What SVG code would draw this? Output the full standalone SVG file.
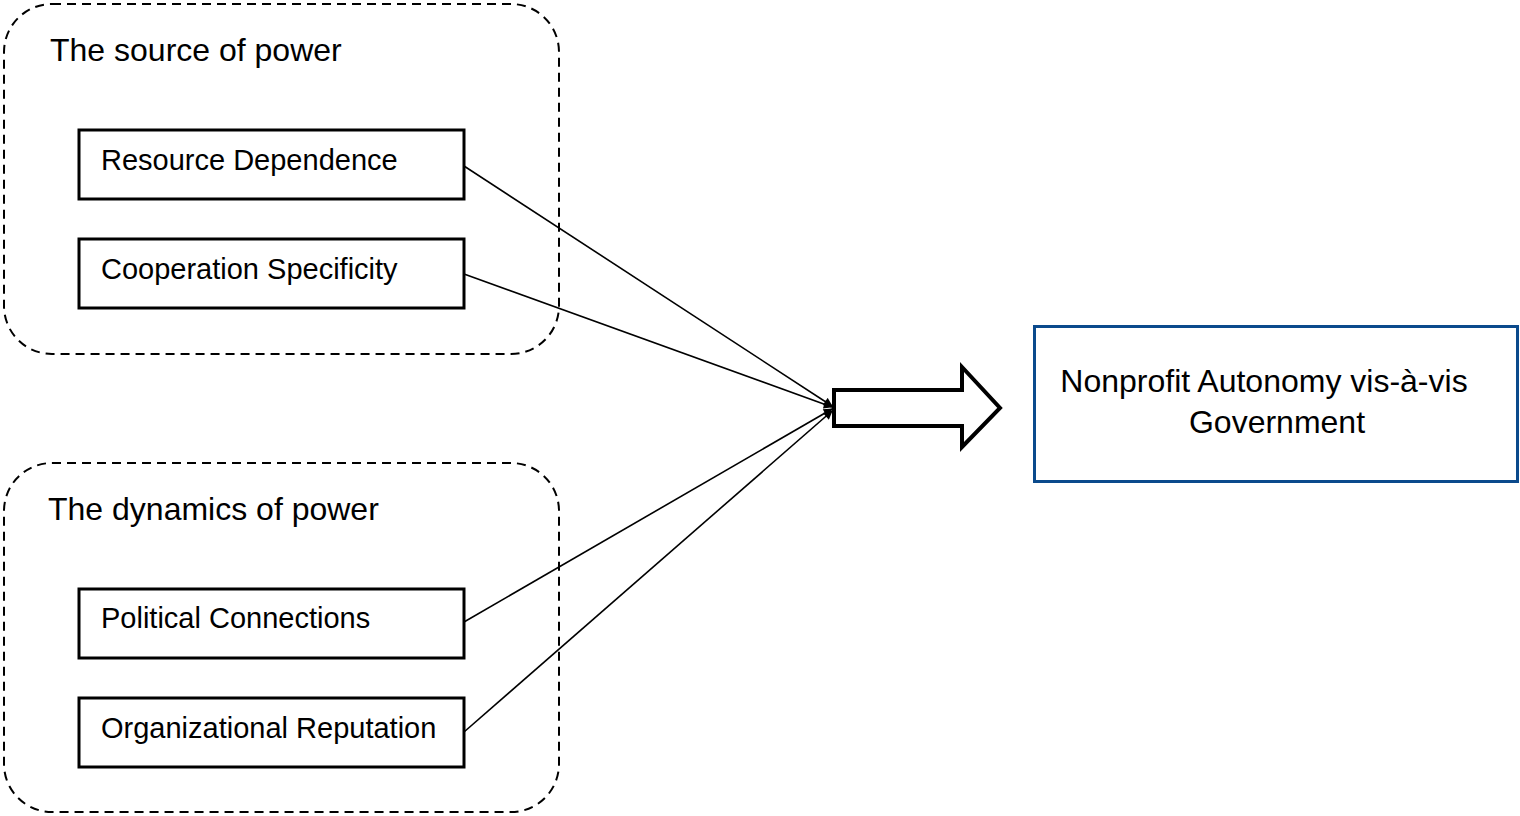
<svg xmlns="http://www.w3.org/2000/svg" width="1520" height="816" viewBox="0 0 1520 816">
<style>
.grp{fill:none;stroke:#000;stroke-width:2;stroke-dasharray:9 6}
.box{fill:#fff;stroke:#000;stroke-width:3}
.t{font-family:"Liberation Sans",Arial,sans-serif;fill:#000}
.gt{font-size:32px}
.bt{font-size:29px}
.conn{stroke:#000;stroke-width:1.6;fill:none;marker-end:url(#ah)}
</style>
<defs>
<marker id="ah" viewBox="0 0 10 10" refX="9" refY="5" markerWidth="11" markerHeight="9" markerUnits="userSpaceOnUse" orient="auto"><path d="M0,0 L10,5 L0,10 z" fill="#000"/></marker>
</defs>
<rect width="1520" height="816" fill="#fff"/>
<g id="group-source">
<rect class="grp" x="4" y="4" width="555" height="350" rx="48" ry="48"/>
<text class="t gt" x="50" y="61">The source of power</text>
</g>
<g id="group-dynamics">
<rect class="grp" x="4" y="463" width="555" height="349" rx="48" ry="48"/>
<text class="t gt" x="48" y="520">The dynamics of power</text>
</g>
<g id="node-resource">
<rect class="box" x="79" y="130" width="385" height="69"/>
<text class="t bt" x="101" y="170">Resource Dependence</text>
</g>
<g id="node-cooperation">
<rect class="box" x="79" y="239" width="385" height="69"/>
<text class="t bt" x="101" y="279">Cooperation Specificity</text>
</g>
<g id="node-political">
<rect class="box" x="79" y="589" width="385" height="69"/>
<text class="t bt" x="101" y="628">Political Connections</text>
</g>
<g id="node-reputation">
<rect class="box" x="79" y="698" width="385" height="69"/>
<text class="t bt" x="101" y="738">Organizational Reputation</text>
</g>
<g id="connectors">
<line class="conn" x1="464" y1="166" x2="832" y2="406"/>
<line class="conn" x1="464" y1="274" x2="832" y2="407"/>
<line class="conn" x1="464" y1="622" x2="832" y2="409"/>
<line class="conn" x1="464" y1="732" x2="832" y2="411"/>
</g>
<g id="block-arrow">
<path d="M834,390 L962,390 L962,367 L1000,408 L962,447 L962,426 L834,426 Z" fill="#fff" stroke="#000" stroke-width="4"/>
</g>
<g id="node-autonomy">
<rect x="1034.5" y="326.5" width="483" height="155" fill="#fff" stroke="#0b4a8c" stroke-width="3"/>
<text class="t gt" x="1264" y="392" text-anchor="middle">Nonprofit Autonomy vis-à-vis</text>
<text class="t gt" x="1277" y="433" text-anchor="middle">Government</text>
</g>
</svg>
